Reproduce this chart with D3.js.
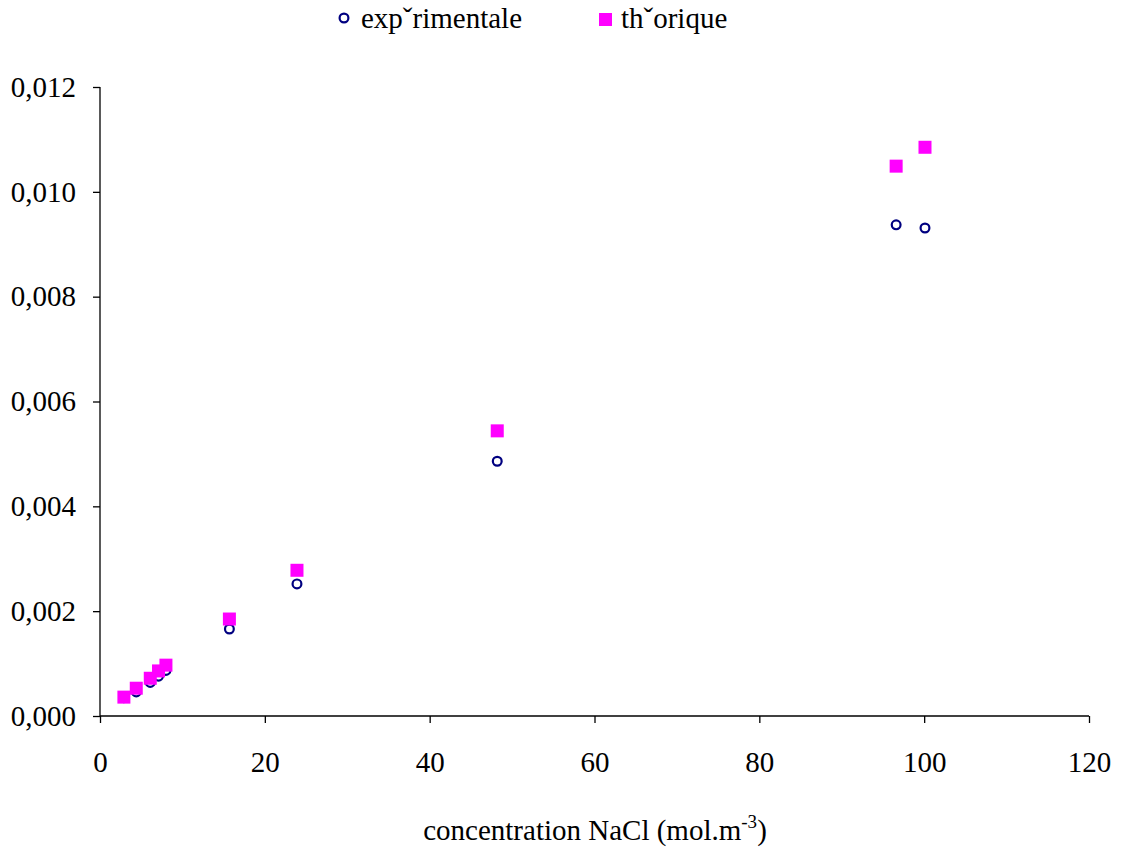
<!DOCTYPE html>
<html><head><meta charset="utf-8">
<script src="https://cdn.jsdelivr.net/npm/d3@7"></script>
<style>body{margin:0;background:#fff}svg{display:block}text{font-family:"Liberation Serif","Times New Roman",serif;fill:#000}</style>
</head><body>
<svg id="c" width="1123" height="852"></svg>
<script>
const concentration = [2.9, 4.4, 6.1, 7.1, 8.0, 15.7, 23.9, 48.2, 96.6, 100.1];
const experimentale = [0.00035, 0.00046, 0.00064, 0.00076, 0.00087, 0.00166, 0.00252, 0.00486, 0.00937, 0.00931];
const theorique = [0.00036, 0.00053, 0.00072, 0.00086, 0.00097, 0.00185, 0.00278, 0.00544, 0.01049, 0.01085];
const xTicks = [0, 20, 40, 60, 80, 100, 120];
const yTicks = [0, 0.002, 0.004, 0.006, 0.008, 0.010, 0.012];
const seriesNames = ["expˇrimentale", "thˇorique"];

const svg = d3.select("#c");
const L = 100, R = 1089, T = 87, B = 716;
const x = d3.scaleLinear().domain([0, 120]).range([L, R]);
const y = d3.scaleLinear().domain([0, 0.012]).range([B, T]);
const fs = 29;

const xa = svg.append("g").attr("transform", `translate(0,${B})`)
  .call(d3.axisBottom(x).tickValues(xTicks).tickSize(7).tickPadding(28).tickFormat(d3.format("d")));
const ya = svg.append("g").attr("transform", `translate(${L},0)`)
  .call(d3.axisLeft(y).tickValues(yTicks).tickSize(7).tickPadding(17).tickFormat(d => d3.format(".3f")(d).replace(".", ",")));
[xa, ya].forEach(a => {
  a.attr("font-family", null).attr("font-size", null);
  a.selectAll("path").attr("stroke", "#000").attr("stroke-width", 1.3);
  a.selectAll("line").attr("stroke", "#000").attr("stroke-width", 1.3);
  a.selectAll("text").style("font-family", '"Liberation Serif",serif').style("font-size", fs + "px").attr("fill", "#000");
});
xa.select(".domain").attr("d", `M${L},0H${R}`);
ya.select(".domain").attr("d", `M0,${T}V${B}`);

// experimental circles
svg.append("g").selectAll("circle").data(concentration).join("circle")
  .attr("cx", d => x(d)).attr("cy", (d, i) => y(experimentale[i])).attr("r", 4.4)
  .attr("fill", "none").attr("stroke", "#000080").attr("stroke-width", 2.2);
// theoretical squares
const s = 13;
svg.append("g").selectAll("rect").data(concentration).join("rect")
  .attr("x", d => x(d) - s / 2).attr("y", (d, i) => y(theorique[i]) - s / 2)
  .attr("width", s).attr("height", s).attr("fill", "#ff00ff");

// legend
svg.append("circle").attr("cx", 344).attr("cy", 18).attr("r", 4.4).attr("fill", "none").attr("stroke", "#000080").attr("stroke-width", 2.2);
svg.append("text").attr("x", 361).attr("y", 28).style("font-size", fs + "px").text(seriesNames[0]);
svg.append("rect").attr("x", 599).attr("y", 13).attr("width", 13).attr("height", 13).attr("fill", "#ff00ff");
svg.append("text").attr("x", 621).attr("y", 28).style("font-size", fs + "px").text(seriesNames[1]);

// axis title
const t = svg.append("text").attr("x", 595).attr("y", 840).attr("text-anchor", "middle").style("font-size", fs + "px");
t.append("tspan").text("concentration NaCl (mol.m");
t.append("tspan").attr("dy", -12).style("font-size", "19px").text("-3");
t.append("tspan").attr("dy", 12).text(")");
</script>
</body></html>
